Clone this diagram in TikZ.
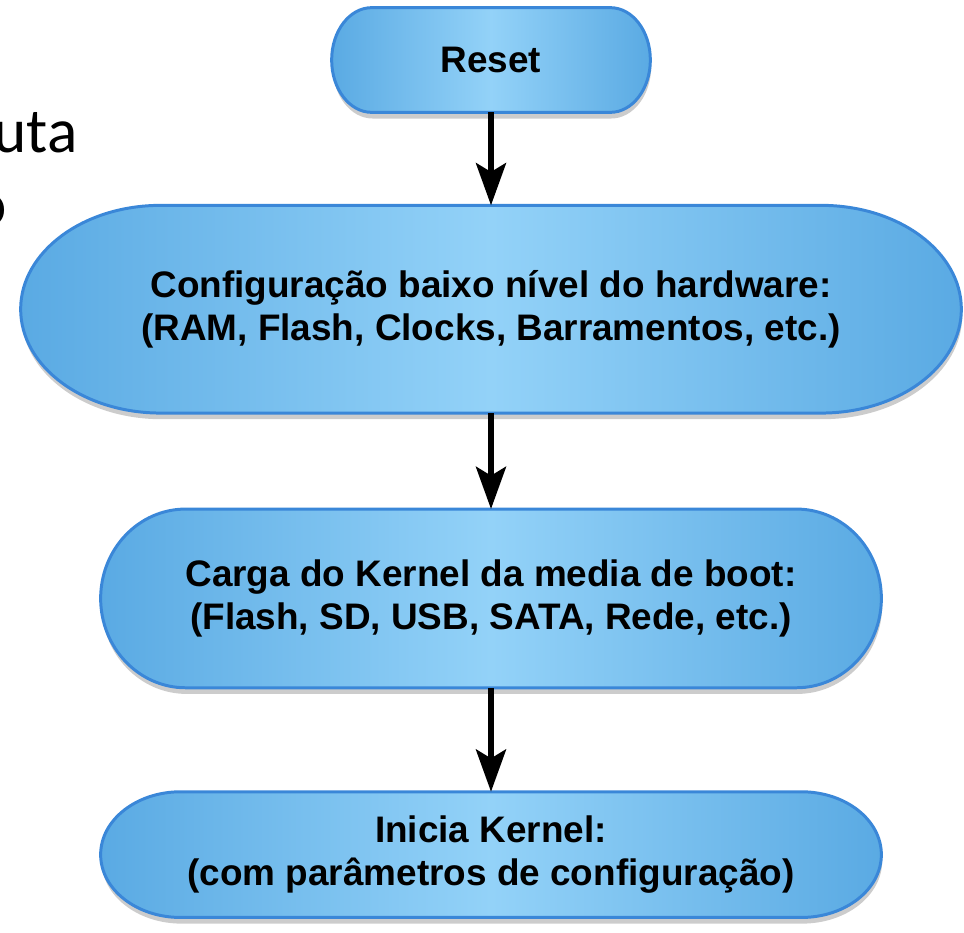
\documentclass[tikz,border=0pt]{standalone}
\usepackage{fontspec}
\setmainfont{Liberation Sans}
\newfontfamily\slidefont{Carlito}
\usetikzlibrary{calc,positioning,arrows.meta,shadows}
\pgfdeclarelayer{background}
\pgfsetlayers{background,main}
\definecolor{pillside}{HTML}{5AAAE3}
\definecolor{pillmid}{HTML}{93D2F8}
\definecolor{pillrim}{HTML}{3A87D8}
\tikzset{
  stepbox/.style={rectangle, inner sep=0pt, align=center,
    font=\bfseries\fontsize{21}{24.5}\selectfont},
  twoline/.style={execute at begin node={\rule{0pt}{22.5pt}}},
  pillbody/.style={draw=pillrim, line width=1.7pt,
    left color=pillside, right color=pillside, middle color=pillmid,
    drop shadow={shadow xshift=0.5pt, shadow yshift=-3.5pt, opacity=0.4}},
  flowarrow/.style={line width=3.5pt, -{Stealth[length=24pt,width=17pt,inset=5pt]}},
  slidetext/.style={inner sep=0pt, font=\slidefont\fontsize{36}{40}\selectfont}
}
% pill outline round a node, #2 = horizontal radius of the ends
\newcommand{\pillshape}[2]{%
  \path let \p1=(#1.north west), \p2=(#1.south east), \n1={(\y1-\y2)/2} in
    [pillbody] (\x1+#2,\y1) -- (\x2-#2,\y1)
    arc[start angle=90, end angle=-90, x radius=#2, y radius=\n1]
    -- (\x1+#2,\y2)
    arc[start angle=270, end angle=90, x radius=#2, y radius=\n1] -- cycle;
}

\begin{document}
\begin{tikzpicture}
  \useasboundingbox (0,0) rectangle (19.28,-18.64);
  \clip (0,0) rectangle (19.28,-18.64);
  % text of the slide behind
  \node[slidetext, anchor=base east] (slideline1) at (1.56,-3.04) {uta};
  \node[slidetext, anchor=base east] (slideline2) at (0.14,-4.5) {o};
  % boot steps
  \node[stepbox, minimum width=6.36cm, minimum height=2.08cm] (reset) at (9.82,-1.2) {Reset};
  \node[stepbox, twoline, minimum width=18.8cm, minimum height=4.14cm, below=1.86cm of reset] (hw)
    {Configuração baixo nível do hardware:\\(RAM, Flash, Clocks, Barramentos, etc.)};
  \node[stepbox, twoline, minimum width=15.6cm, minimum height=3.56cm, below=1.92cm of hw] (kernel)
    {Carga do Kernel da media de boot:\\(Flash, SD, USB, SATA, Rede, etc.)};
  \node[stepbox, twoline, minimum width=15.6cm, minimum height=2.5cm, below=2.08cm of kernel] (start)
    {Inicia Kernel:\\(com parâmetros de configuração)};
  \begin{pgfonlayer}{background}
    \foreach \stepname/\rad in {reset/0.8cm, hw/2.8cm, kernel/1.7cm, start/1.6cm} {
      \pillshape{\stepname}{\rad}
    }
  \end{pgfonlayer}
  \draw[flowarrow] (reset) -- (hw);
  \draw[flowarrow] (hw) -- (kernel);
  \draw[flowarrow] (kernel) -- (start);
\end{tikzpicture}
\end{document}
